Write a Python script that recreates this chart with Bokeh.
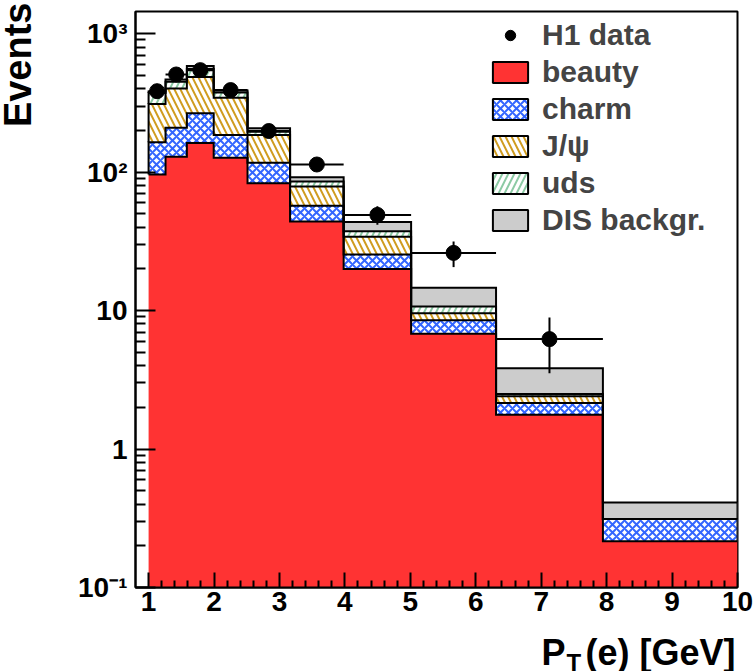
import numpy as np
from bokeh.plotting import figure
from bokeh.models import (FixedTicker, CustomJSTickFormatter, Legend, LegendItem, Label)
from bokeh.embed import file_html
from bokeh.resources import INLINE

# ---------------- data ----------------
bin_edges = [1.0, 1.259, 1.585, 1.995, 2.512, 3.162, 3.981, 5.012, 6.310, 7.943, 10.0]
beauty = [96.0, 129.0, 162.0, 127.0, 83.0, 44.0, 20.0, 6.8, 1.77, 0.216]
charm = [68.0, 80.0, 104.0, 58.0, 34.0, 13.1, 5.4, 1.7, 0.38, 0.096]
jpsi = [146.0, 193.0, 221.0, 159.0, 68.0, 21.6, 8.7, 1.05, 0.26, 0.0]
uds = [62.0, 47.0, 69.0, 31.0, 11.0, 6.7, 3.3, 1.15, 0.09, 0.0]
dis_bg = [10.0, 18.0, 29.0, 13.0, 11.0, 6.5, 6.3, 3.9, 1.33, 0.099]
data_y = [384.0, 507.0, 545.0, 391.0, 198.0, 113.5, 49.1, 26.1, 6.22]
data_err = [20.0, 22.0, 23.0, 20.0, 14.0, 10.6, 7.5, 5.5, 2.7]
comp_labels = ["beauty", "charm", "J/ψ", "uds", "DIS backgr."]
data_label = "H1 data"
x_ticks = [1, 2, 3, 4, 5, 6, 7, 8, 9, 10]
y_ticks = [0.1, 1, 10, 100, 1000]
y_tick_labels = ["10⁻¹", "1", "10", "10²", "10³"]

# ---------------- figure ----------------
p = figure(width=754, height=671, x_range=(0.8, 10), y_range=(0.1, 1445),
           y_axis_type="log", output_backend="svg", toolbar_location=None,
           min_border_left=135, min_border_right=17, min_border_top=11,
           min_border_bottom=84)
p.xgrid.visible = False
p.ygrid.visible = False
p.outline_line_color = "black"
p.outline_line_width = 2
p.background_fill_color = "white"
p.border_fill_color = "white"

edges = np.array(bin_edges)
lefts, rights = edges[:-1], edges[1:]
comps = np.array([beauty, charm, jpsi, uds, dis_bg])
cum = np.cumsum(comps, axis=0)
FLOOR = 1e-4
lowers = [np.full(len(beauty), FLOOR)] + [cum[i - 1] for i in range(1, len(comps))]

styles = [
    dict(fill_color="#ff3333"),
    dict(fill_color="white", hatch_pattern="diagonal_cross", hatch_color="#3366ff",
         hatch_scale=8, hatch_weight=2),
    dict(fill_color="white", hatch_pattern="left_diagonal_line", hatch_color="#d09c20",
         hatch_scale=12, hatch_weight=2),
    dict(fill_color="white", hatch_pattern="right_diagonal_line", hatch_color="#8ccaa4",
         hatch_scale=12, hatch_weight=2),
    dict(fill_color="#cccccc"),
]


def steps(vals):
    xs, ys = [], []
    for i in range(len(vals)):
        xs += [edges[i], edges[i + 1]]
        ys += [vals[i], vals[i]]
    return xs, ys


legend_rends = []
for k in range(len(comps)):
    tx, ty = steps(cum[k])
    bx, by = steps(lowers[k])
    px = tx + bx[::-1]
    py = ty + by[::-1]
    p.patch(px, py, line_alpha=0, **styles[k])
    r = p.patch(px, py, line_color="black", line_width=2, visible=False, **styles[k])
    legend_rends.append(r)

for k in range(len(comps)):
    xs, ys = steps(cum[k])
    if k > 0:
        xs = [edges[0]] + xs + [edges[-1]]
        ys = [lowers[k][0]] + ys + [lowers[k][-1]]
    p.line(xs, ys, line_color="black", line_width=2, line_join="miter")

# data points
dy = np.array(data_y)
de = np.array(data_err)
n = len(data_y)
centers = (lefts[:n] + rights[:n]) / 2
p.segment(x0=centers, y0=dy - de, x1=centers, y1=dy + de, line_color="black", line_width=2)
p.segment(x0=lefts[:n], y0=dy, x1=rights[:n], y1=dy, line_color="black", line_width=2)
pts = p.scatter(centers, dy, size=15, marker="circle", color="black")

# ---------------- axes ----------------
x_minor = [round(1 + 0.2 * i, 2) for i in range(46) if (i % 5) != 0]
p.xaxis.ticker = FixedTicker(ticks=x_ticks, minor_ticks=x_minor)
y_minor = [m * 10.0 ** e for e in range(-1, 3) for m in range(2, 10)]
p.yaxis.ticker = FixedTicker(ticks=y_ticks, minor_ticks=y_minor)
p.yaxis.formatter = CustomJSTickFormatter(args=dict(vals=y_ticks, labs=y_tick_labels), code="""
for (let i = 0; i < vals.length; i++) {
  if (Math.abs(Math.log10(tick) - Math.log10(vals[i])) < 1e-6) { return labs[i]; }
}
return "";
""")
for ax, maj, mnr, st in ((p.xaxis, 15, 7, 4), (p.yaxis, 20, 10, 8)):
    ax.axis_line_width = 2
    ax.axis_line_color = "black"
    ax.major_tick_in = maj
    ax.major_tick_out = 0
    ax.minor_tick_in = mnr
    ax.minor_tick_out = 0
    ax.major_tick_line_width = 2
    ax.minor_tick_line_width = 2
    ax.major_label_text_font = "Liberation Sans"
    ax.major_label_text_font_style = "bold"
    ax.major_label_text_font_size = "28px"
    ax.major_label_text_color = "black"
    ax.major_label_standoff = st

# ---------------- titles ----------------
font = dict(text_font="Liberation Sans", text_font_style="bold", text_color="black")
p.add_layout(Label(x=17, y=2, x_units="canvas", y_units="canvas", text="Events",
                   angle=np.pi / 2, text_align="right", text_baseline="alphabetic",
                   text_font_size="38px", **font), "left")
p.add_layout(Label(x=735, y=652, x_units="canvas", y_units="canvas",
                   text="P\u00a0\u00a0(e) [GeV]",
                   text_align="right", text_baseline="alphabetic", text_font_size="36px",
                   **font), "below")
p.add_layout(Label(x=566, y=662, x_units="canvas", y_units="canvas", text="T",
                   text_align="left", text_baseline="alphabetic", text_font_size="24px",
                   **font), "left")

# ---------------- legend ----------------
items = [LegendItem(label=data_label, renderers=[pts])]
for lab, r in zip(comp_labels, legend_rends):
    items.append(LegendItem(label=lab, renderers=[r]))
legend = Legend(items=items, location=(348, 344), border_line_alpha=0,
                background_fill_alpha=0, label_text_font="Liberation Sans",
                label_text_font_style="bold", label_text_font_size="30px",
                glyph_width=44, glyph_height=26, label_standoff=10, padding=5,
                spacing=1, label_height=36, margin=0, click_policy="none")
p.add_layout(legend)

open("out.html", "w").write(file_html(p, INLINE))
